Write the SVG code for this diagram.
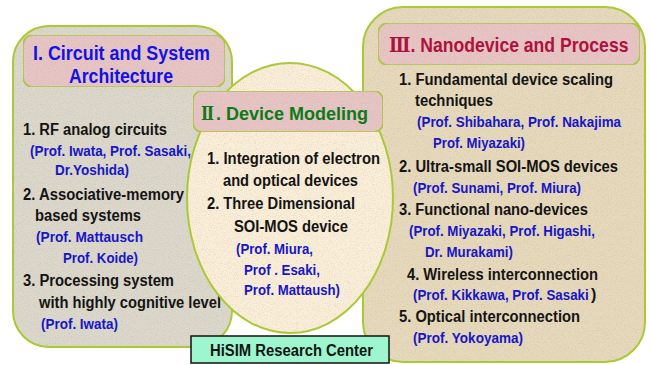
<svg xmlns="http://www.w3.org/2000/svg" width="651" height="365" viewBox="0 0 651 365">
  <defs>
    <!-- paper grain laid over the panel fills -->
    <filter id="grain" x="0" y="0" width="1" height="1">
      <feTurbulence type="fractalNoise" baseFrequency="0.85" numOctaves="2" seed="7" result="noise"/>
      <feColorMatrix in="noise" type="matrix" values="0 0 0 0 0.45  0 0 0 0 0.4  0 0 0 0 0.33  0.9 0 0 0 -0.4" result="spots"/>
      <feComposite in="spots" in2="SourceAlpha" operator="in" result="clipped"/>
      <feMerge>
        <feMergeNode in="SourceGraphic"/>
        <feMergeNode in="clipped"/>
      </feMerge>
    </filter>
    <style>
      .panel-line { fill: none; stroke: #a9c935; stroke-width: 2; }
      .head { fill: #e8c5c5; stroke: #a9c935; stroke-width: 1.6; }
      text { font-family: "Liberation Sans", Arial, sans-serif; font-weight: bold; }
      .k { font-size: 16px; fill: #141414; }
      .b { font-size: 15px; fill: #1616c8; }
      .t1 { font-size: 20px; fill: #1212e6; }
      .t2 { font-size: 19px; fill: #0c7a18; }
      .t3 { font-size: 20px; fill: #b0103c; }
      .rn { font-family: "DejaVu Serif", "Noto Sans CJK JP", serif; font-weight: bold; }
    </style>
  </defs>

  <rect width="651" height="365" fill="#ffffff"/>

  <!-- I. Circuit and System Architecture -->
  <g id="circuit-system">
    <rect x="13" y="26" width="219" height="321" rx="36" fill="#ddd8cc" filter="url(#grain)"/>
    <rect x="13" y="26" width="219" height="321" rx="36" class="panel-line"/>
    <rect x="23" y="35" width="202" height="52" rx="10" class="head" filter="url(#grain)"/>
    <text class="t1" x="33" y="60" textLength="177" lengthAdjust="spacingAndGlyphs">I. Circuit and System</text>
    <text class="t1" x="69" y="83" textLength="104" lengthAdjust="spacingAndGlyphs">Architecture</text>
    <text class="k" x="23" y="135" textLength="144" lengthAdjust="spacingAndGlyphs">1. RF analog circuits</text>
    <text class="b" x="30" y="156" textLength="161" lengthAdjust="spacingAndGlyphs">(Prof. Iwata, Prof. Sasaki,</text>
    <text class="b" x="55" y="175" textLength="74" lengthAdjust="spacingAndGlyphs">Dr.Yoshida)</text>
    <text class="k" x="23" y="200" textLength="161" lengthAdjust="spacingAndGlyphs">2. Associative-memory</text>
    <text class="k" x="35" y="221" textLength="106" lengthAdjust="spacingAndGlyphs">based systems</text>
    <text class="b" x="36" y="242" textLength="107" lengthAdjust="spacingAndGlyphs">(Prof. Mattausch</text>
    <text class="b" x="63" y="263" textLength="75" lengthAdjust="spacingAndGlyphs">Prof. Koide)</text>
    <text class="k" x="23" y="286" textLength="151" lengthAdjust="spacingAndGlyphs">3. Processing system</text>
    <text class="k" x="39" y="308" textLength="182" lengthAdjust="spacingAndGlyphs">with highly cognitive level</text>
    <text class="b" x="41" y="329" textLength="77" lengthAdjust="spacingAndGlyphs">(Prof. Iwata)</text>
  </g>

  <!-- III. Nanodevice and Process -->
  <g id="nanodevice-process">
    <rect x="363" y="7" width="282" height="355" rx="40" fill="#e7d9bb" filter="url(#grain)"/>
    <rect x="363" y="7" width="282" height="355" rx="40" class="panel-line"/>
    <rect x="378" y="23" width="262" height="42" rx="10" class="head" filter="url(#grain)"/>
    <text class="t3" transform="translate(389 52) scale(0.88 1)"><tspan class="rn">Ⅲ</tspan>. Nanodevice and Process</text>
    <text class="k" x="399" y="85" textLength="214" lengthAdjust="spacingAndGlyphs">1. Fundamental device scaling</text>
    <text class="k" x="415" y="106" textLength="78" lengthAdjust="spacingAndGlyphs">techniques</text>
    <text class="b" x="417" y="127" textLength="204" lengthAdjust="spacingAndGlyphs">(Prof. Shibahara, Prof. Nakajima</text>
    <text class="b" x="433" y="148" textLength="92" lengthAdjust="spacingAndGlyphs">Prof. Miyazaki)</text>
    <text class="k" x="399" y="172" textLength="219" lengthAdjust="spacingAndGlyphs">2. Ultra-small SOI-MOS devices</text>
    <text class="b" x="413" y="193" textLength="168" lengthAdjust="spacingAndGlyphs">(Prof. Sunami, Prof. Miura)</text>
    <text class="k" x="399" y="215" textLength="189" lengthAdjust="spacingAndGlyphs">3. Functional nano-devices</text>
    <text class="b" x="409" y="236" textLength="186" lengthAdjust="spacingAndGlyphs">(Prof. Miyazaki, Prof. Higashi,</text>
    <text class="b" x="425" y="257" textLength="88" lengthAdjust="spacingAndGlyphs">Dr. Murakami)</text>
    <text class="k" x="407" y="280" textLength="191" lengthAdjust="spacingAndGlyphs">4. Wireless interconnection</text>
    <text class="b" transform="translate(413 300) scale(0.89 1)">(Prof. Kikkawa, Prof. Sasaki</text>
    <text class="k" x="591" y="300" font-size="15">)</text>
    <text class="k" x="399" y="322" textLength="181" lengthAdjust="spacingAndGlyphs">5. Optical interconnection</text>
    <text class="b" x="413" y="343" textLength="110" lengthAdjust="spacingAndGlyphs">(Prof. Yokoyama)</text>
  </g>

  <!-- II. Device Modeling -->
  <g id="device-modeling">
    <ellipse cx="290" cy="198" rx="103" ry="135" fill="#fbefd9" filter="url(#grain)"/>
    <ellipse cx="290" cy="198" rx="103" ry="135" class="panel-line"/>
    <rect x="193" y="91" width="190" height="41" rx="9" class="head" filter="url(#grain)"/>
    <text class="t2 rn" x="201" y="120" textLength="13" lengthAdjust="spacingAndGlyphs">Ⅱ</text>
    <text class="t2" x="216" y="120" textLength="152" lengthAdjust="spacingAndGlyphs">. Device Modeling</text>
    <text class="k" x="207" y="164" textLength="173" lengthAdjust="spacingAndGlyphs">1. Integration of electron</text>
    <text class="k" x="223" y="186" textLength="135" lengthAdjust="spacingAndGlyphs">and optical devices</text>
    <text class="k" x="207" y="209" textLength="148" lengthAdjust="spacingAndGlyphs">2. Three Dimensional</text>
    <text class="k" x="234" y="232" textLength="114" lengthAdjust="spacingAndGlyphs">SOI-MOS device</text>
    <text class="b" x="236" y="254" textLength="77" lengthAdjust="spacingAndGlyphs">(Prof. Miura,</text>
    <text class="b" x="244" y="275" textLength="76" lengthAdjust="spacingAndGlyphs">Prof . Esaki,</text>
    <text class="b" x="244" y="295" textLength="96" lengthAdjust="spacingAndGlyphs">Prof. Mattaush)</text>
  </g>

  <!-- centre label -->
  <g id="hisim-center">
    <rect x="191" y="336" width="198" height="27" fill="#9ef6cf" stroke="#111" stroke-width="1.5"/>
    <text class="k" x="210" y="356" textLength="163" lengthAdjust="spacingAndGlyphs">HiSIM Research Center</text>
  </g>

  <g id="connectors"/>
</svg>
